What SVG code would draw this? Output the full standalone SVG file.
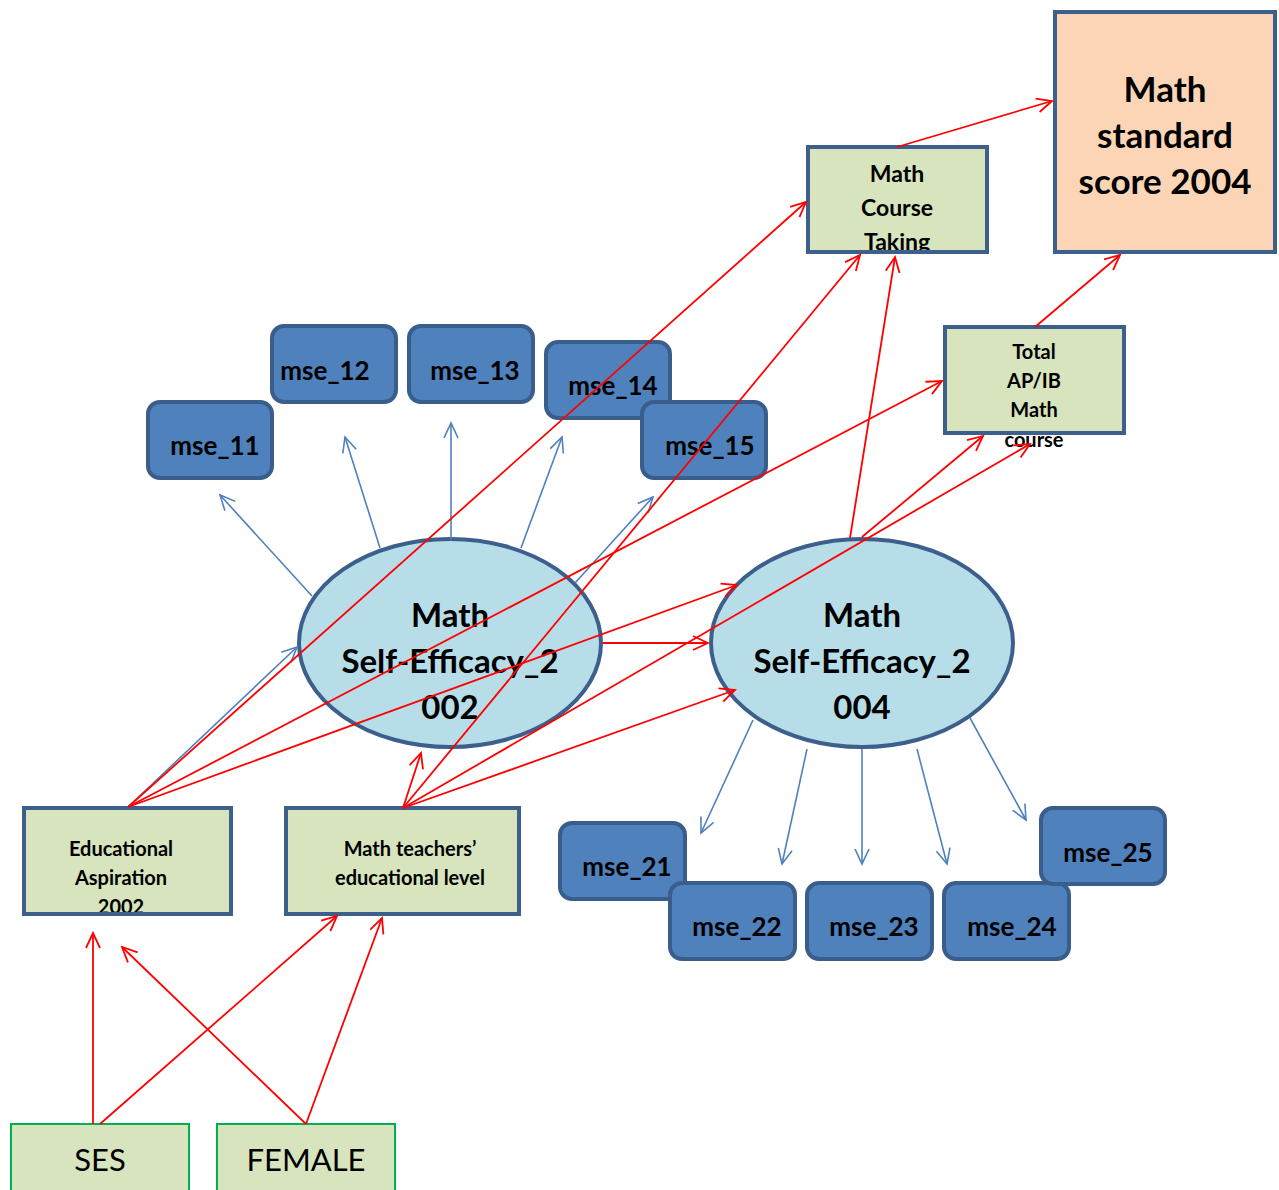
<svg xmlns="http://www.w3.org/2000/svg" width="1279" height="1190" viewBox="0 0 1279 1190">
<style>
.t{font-family:Lato,"Liberation Sans",sans-serif;font-weight:bold;fill:#000;text-anchor:middle}
.n{font-family:Lato,"Liberation Sans",sans-serif;fill:#000;text-anchor:middle}
.box{fill:#D7E4BD;stroke:#3C5F8C;stroke-width:4}
.mse{fill:#4F81BD;stroke:#3A5E8C;stroke-width:4}
.ell{fill:#B7DEE8;stroke:#3C5F8C;stroke-width:4}
.ex{fill:#D7E4BD;stroke:#00B050;stroke-width:2}
.r{stroke:#FF0000;stroke-width:1.8;fill:none;marker-end:url(#ar)}
.b{stroke:#4F81BD;stroke-width:1.6;fill:none;marker-end:url(#ab)}
</style>
<defs>
<marker id="ar" viewBox="-17 -9 19 18" markerWidth="19" markerHeight="18" refX="0" refY="0" orient="auto" markerUnits="userSpaceOnUse"><path d="M-15,-7 L0,0 L-15,7" fill="none" stroke="#FF0000" stroke-width="1.8"/></marker>
<marker id="ab" viewBox="-17 -9 19 18" markerWidth="19" markerHeight="18" refX="0" refY="0" orient="auto" markerUnits="userSpaceOnUse"><path d="M-15,-7 L0,0 L-15,7" fill="none" stroke="#4F81BD" stroke-width="1.6"/></marker>
</defs>
<rect width="1279" height="1190" fill="#fff"/>

<g id="mss">
<rect x="1055" y="12" width="220" height="240" fill="#FBD5B5" stroke="#3C5F8C" stroke-width="4"/>
<text class="t" font-size="35" x="1165" y="102">Math</text>
<text class="t" font-size="35" x="1165" y="148">standard</text>
<text class="t" font-size="35" x="1165" y="194">score 2004</text>
</g>
<g id="mct">
<rect x="808" y="147" width="179" height="105" fill="#D7E4BD"/>
<text class="t" font-size="23" x="897" y="182">Math</text>
<text class="t" font-size="23" x="897" y="216">Course</text>
<text class="t" font-size="23" x="897" y="250">Taking</text>
<rect x="808" y="147" width="179" height="105" fill="none" stroke="#3C5F8C" stroke-width="4"/>
</g>
<g id="apib">
<rect class="box" x="945" y="327" width="179" height="106"/>
<text class="t" font-size="20" x="1034" y="359">Total</text>
<text class="t" font-size="20" x="1034" y="388">AP/IB</text>
<text class="t" font-size="20" x="1034" y="417">Math</text>
<text class="t" font-size="20" x="1034" y="447">course</text>
</g>
<g id="mse_11"><rect class="mse" x="148" y="402" width="124" height="76" rx="12"/><text class="t" font-size="26" x="215" y="455">mse_11</text></g>
<g id="mse_12"><rect class="mse" x="272" y="326" width="124" height="76" rx="12"/><text class="t" font-size="26" x="325" y="380">mse_12</text></g>
<g id="mse_13"><rect class="mse" x="409" y="326" width="124" height="76" rx="12"/><text class="t" font-size="26" x="475" y="380">mse_13</text></g>
<g id="mse_14"><rect class="mse" x="546" y="342" width="124" height="76" rx="12"/><text class="t" font-size="26" x="613" y="395">mse_14</text></g>
<g id="mse_15"><rect class="mse" x="642" y="402" width="124" height="76" rx="12"/><text class="t" font-size="26" x="710" y="455">mse_15</text></g>
<g id="mse_21"><rect class="mse" x="560" y="823" width="125" height="76" rx="12"/><text class="t" font-size="26" x="627" y="876">mse_21</text></g>
<g id="mse_22"><rect class="mse" x="670" y="883" width="125" height="76" rx="12"/><text class="t" font-size="26" x="737" y="936">mse_22</text></g>
<g id="mse_23"><rect class="mse" x="807" y="883" width="125" height="76" rx="12"/><text class="t" font-size="26" x="874" y="936">mse_23</text></g>
<g id="mse_24"><rect class="mse" x="944" y="883" width="125" height="76" rx="12"/><text class="t" font-size="26" x="1012" y="936">mse_24</text></g>
<g id="mse_25"><rect class="mse" x="1041" y="808" width="124" height="76" rx="12"/><text class="t" font-size="26" x="1108" y="862">mse_25</text></g>

<g id="mse2002">
<ellipse class="ell" cx="450" cy="643" rx="151" ry="104"/>
<text class="t" font-size="33" x="450" y="627">Math</text>
<text class="t" font-size="33" x="450" y="673">Self-Efficacy_2</text>
<text class="t" font-size="33" x="450" y="719">002</text>
</g>
<g id="mse2004">
<ellipse class="ell" cx="862" cy="643" rx="151" ry="104"/>
<text class="t" font-size="33" x="862" y="627">Math</text>
<text class="t" font-size="33" x="862" y="673">Self-Efficacy_2</text>
<text class="t" font-size="33" x="862" y="719">004</text>
</g>
<g id="edasp">
<rect x="24" y="808" width="207" height="106" fill="#D7E4BD"/>
<text class="t" font-size="20" x="121" y="856">Educational</text>
<text class="t" font-size="20" x="121" y="885">Aspiration</text>
<text class="t" font-size="20" x="121" y="914">2002</text>
<rect x="24" y="808" width="207" height="106" fill="none" stroke="#3C5F8C" stroke-width="4"/>
</g>
<g id="teach">
<rect class="box" x="286" y="808" width="233" height="106"/>
<text class="t" font-size="20" x="410" y="856">Math teachers’</text>
<text class="t" font-size="20" x="410" y="885">educational level</text>
</g>
<g id="ses"><rect class="ex" x="11" y="1124" width="178" height="80"/><text class="n" font-size="31" x="100" y="1171">SES</text></g>
<g id="female"><rect class="ex" x="217" y="1124" width="178" height="80"/><text class="n" font-size="31" x="306" y="1171">FEMALE</text></g>

<g id="connectors">
<line class="b" x1="312" y1="596" x2="220" y2="495"/>
<line class="b" x1="380" y1="548" x2="345" y2="437"/>
<line class="b" x1="451" y1="540" x2="451" y2="423"/>
<line class="b" x1="521" y1="548" x2="562" y2="437"/>
<line class="b" x1="575" y1="583" x2="653" y2="497"/>
<line class="b" x1="128" y1="807" x2="297" y2="647"/>
<line class="b" x1="753" y1="720" x2="701" y2="833"/>
<line class="b" x1="807" y1="749" x2="782" y2="864"/>
<line class="b" x1="862" y1="749" x2="862" y2="864"/>
<line class="b" x1="917" y1="749" x2="947" y2="864"/>
<line class="b" x1="970" y1="718" x2="1026" y2="820"/>

<line class="r" x1="897" y1="147" x2="1052" y2="101"/>
<line class="r" x1="1035" y1="327" x2="1120" y2="255"/>
<line class="r" x1="128" y1="807" x2="806" y2="202"/>
<line class="r" x1="128" y1="807" x2="942" y2="381"/>
<line class="r" x1="128" y1="807" x2="737" y2="585"/>
<line class="r" x1="403" y1="808" x2="860" y2="255"/>
<line class="r" x1="403" y1="808" x2="421" y2="753"/>
<line class="r" x1="403" y1="808" x2="735" y2="690"/>
<line class="r" x1="403" y1="808" x2="1030" y2="444"/>
<line class="r" x1="603" y1="643" x2="708" y2="643"/>
<line class="r" x1="850" y1="538" x2="895" y2="257"/>
<line class="r" x1="862" y1="537" x2="983" y2="436"/>
<line class="r" x1="93" y1="1124" x2="93" y2="933"/>
<line class="r" x1="100" y1="1124" x2="337" y2="916"/>
<line class="r" x1="306" y1="1124" x2="122" y2="947"/>
<line class="r" x1="306" y1="1124" x2="382" y2="918"/>
</g>
</svg>
